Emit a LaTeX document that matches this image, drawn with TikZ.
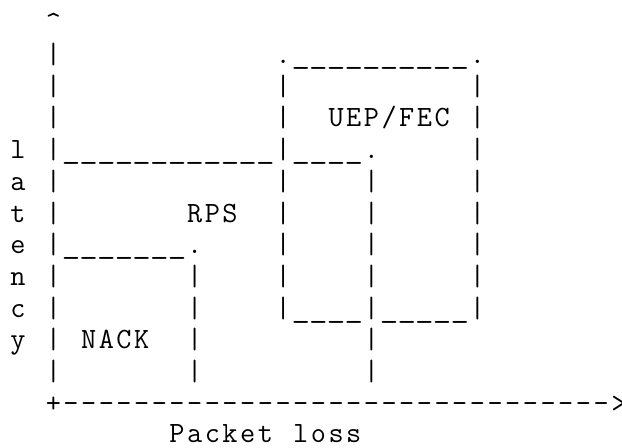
\documentclass[tikz,border=0pt]{standalone}
\usepackage{tikz}
\usepackage{graphicx}
\newcommand\glyphfont{\fontsize{29.4bp}{31.7bp}\selectfont\ttfamily}
\newcommand\usc{\makebox[0.525em]{\scalebox{1.22}[1]{\textunderscore}}}
\tikzset{
  ch/.style={font=\glyphfont, inner sep=0pt, outer sep=0pt, anchor=base},
}

\begin{document}
\begin{tikzpicture}[x=17.67bp, y=-31.7bp]
\useasboundingbox (-1.0187,-1.003) rectangle (34.18,13.098);
% axes
\node[ch] (up) at (2,0) {\textasciicircum};
\foreach \row in {1,...,11} \node[ch] (yax\row) at (2,\row) {|};
\node[ch] (origin) at (2,12) {+};
\foreach \col in {3,...,33} \node[ch] (xax\col) at (\col,12) {-};
\node[ch] (tip) at (34,12) {>};
\foreach \ltr [count=\row from 4] in {l,a,t,e,n,c,y} \node[ch] (ylbl\row) at (0,\row) {\ltr};
\foreach \ltr [count=\col from 9] in {P,a,c,k,e,t,{},l,o,s,s} \node[ch] (xlbl\col) at (\col,12.96) {\ltr};
% NACK
\foreach \col in {3,...,9} \node[ch] (nacktop\col) at (\col,7) {\usc};
\node[ch] (nackdot) at (10,7) {.};
\foreach \row in {8,...,11} \node[ch] (nackside\row) at (10,\row) {|};
\foreach \ltr [count=\col from 4] in {N,A,C,K} \node[ch] (nack\col) at (\col,10) {\ltr};
% RPS
\foreach \col in {3,...,14} \node[ch] (rpstop\col) at (\col,4) {\usc};
\foreach \col in {16,...,19} \node[ch] (rpsstep\col) at (\col,4) {\usc};
\node[ch] (rpsdot) at (20,4) {.};
\foreach \row in {5,...,11} \node[ch] (rpsside\row) at (20,\row) {|};
\foreach \ltr [count=\col from 10] in {R,P,S} \node[ch] (rps\col) at (\col,6) {\ltr};
% UEP/FEC
\node[ch] (uepnw) at (15,1) {.};
\foreach \col in {16,...,25} \node[ch] (ueptop\col) at (\col,1) {\usc};
\node[ch] (uepne) at (26,1) {.};
\foreach \row in {2,...,9} \node[ch] (uepleft\row) at (15,\row) {|};
\foreach \row in {2,...,9} \node[ch] (uepright\row) at (26,\row) {|};
\foreach \col in {16,...,19} \node[ch] (uepbotl\col) at (\col,9) {\usc};
\foreach \col in {21,...,25} \node[ch] (uepbotr\col) at (\col,9) {\usc};
\foreach \ltr [count=\col from 18] in {U,E,P,/,F,E,C} \node[ch] (uep\col) at (\col,3) {\ltr};
\end{tikzpicture}
\end{document}
